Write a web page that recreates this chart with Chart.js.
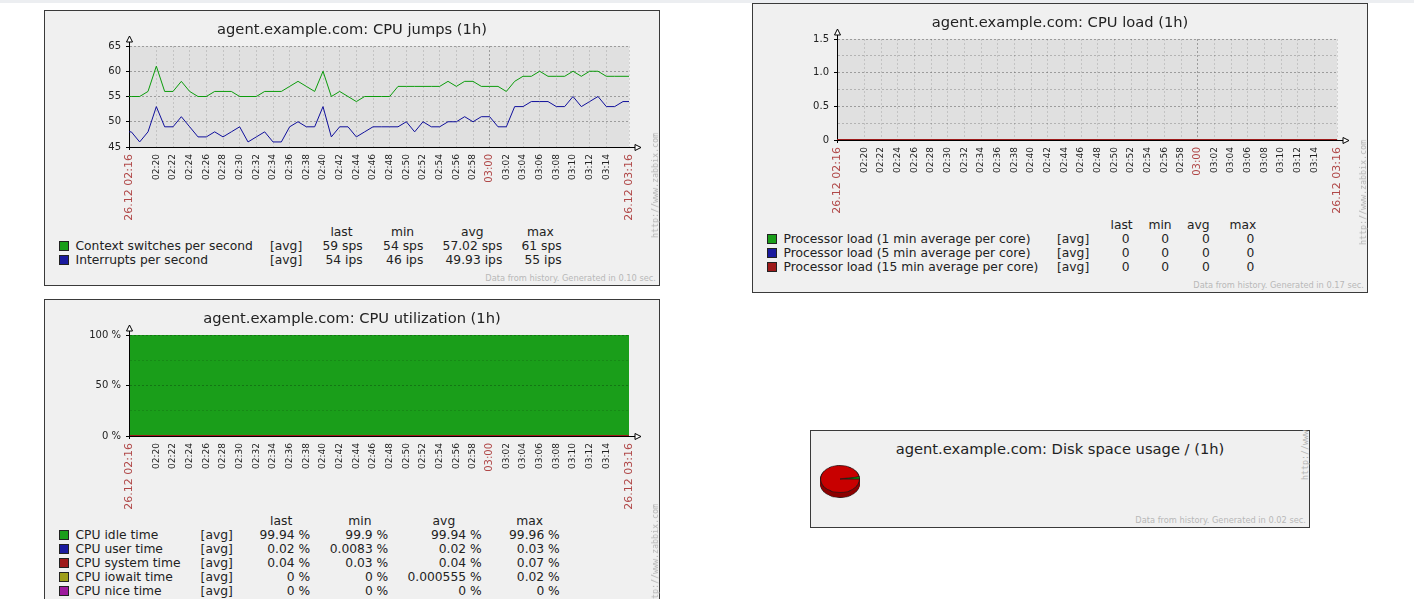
<!DOCTYPE html>
<html>
<head>
<meta charset="utf-8">
<title>agent.example.com graphs</title>
<script src="https://cdn.jsdelivr.net/npm/chart.js@4.4.1/dist/chart.umd.min.js"></script>
<style>
  body { margin: 0; width: 1414px; height: 599px; overflow: hidden; background: #fff; position: relative;
         font-family: "DejaVu Sans", sans-serif; color: #222; }
  .topbar { position: absolute; left: 0; top: 0; width: 1414px; height: 3px; background: #eceef1; }
  .panel { position: absolute; background: #f0f0f0; outline: 1px solid #3a3a3a; outline-offset: -1px; overflow: hidden; }
  .panel canvas { position: absolute; left: 0; top: 0; }
  .title { position: absolute; left: 0; width: 100%; top: 10px; text-align: center; font-size: 14.7px;
           line-height: 18px; white-space: nowrap; color: #222; }
  .lg { position: absolute; font-size: 12.3px; line-height: 14px; white-space: nowrap; color: #222; }
  .sq { position: absolute; width: 10px; height: 10px; box-sizing: border-box; border: 1px solid #222; }
  .foot { position: absolute; right: 4px; bottom: 3.5px; font-size: 8.25px; line-height: 10px; color: #b8b8b8; white-space: nowrap; }
  .wm { position: absolute; right: 0; bottom: 48px; width: 10px; writing-mode: vertical-rl; transform: rotate(180deg);
        font-family: "DejaVu Sans Mono", monospace; font-size: 8.3px; line-height: 10px; color: #b4b4b4; white-space: nowrap; }
</style>
</head>
<body>
<div class="topbar"></div>

<div class="panel" id="pJumps" style="left:44px;top:10px;width:616px;height:276px">
  <canvas id="cJumps" width="616" height="210"></canvas>
  <div class="title">agent.example.com: CPU jumps (1h)</div>
  <div class="wm">http://www.zabbix.com</div>
  <div class="foot">Data from history. Generated in 0.10 sec.</div>
</div>

<div class="panel" id="pLoad" style="left:752px;top:3px;width:616px;height:290px">
  <canvas id="cLoad" width="616" height="210"></canvas>
  <div class="title">agent.example.com: CPU load (1h)</div>
  <div class="wm">http://www.zabbix.com</div>
  <div class="foot">Data from history. Generated in 0.17 sec.</div>
</div>

<div class="panel" id="pUtil" style="left:44px;top:299px;width:616px;height:358px">
  <canvas id="cUtil" width="616" height="210"></canvas>
  <div class="title">agent.example.com: CPU utilization (1h)</div>
  <div class="wm">http://www.zabbix.com</div>
</div>

<div class="panel" id="pDisk" style="left:810px;top:430px;width:500px;height:98px">
  <div class="title">agent.example.com: Disk space usage / (1h)</div>
  <div class="wm">http://www.zabbix.com</div>
  <div class="foot">Data from history. Generated in 0.02 sec.</div>
</div>

<script>
// --- Time axis (minutes past 02:00, one sample per minute from 02:16) ---
const axisStart   = 16.72;   // 02:16:43
const axisEnd     = 76.72;   // 03:16:43
const firstMinute = 16;
const timeTicks   = [20, 22, 24, 26, 28, 30, 32, 34, 36, 38, 40, 42, 44, 46,
                     48, 50, 52, 54, 56, 58, 60, 62, 64, 66, 68, 70, 72, 74];
const timeLabels  = ["02:20", "02:22", "02:24", "02:26", "02:28", "02:30", "02:32", "02:34", "02:36", "02:38",
                     "02:40", "02:42", "02:44", "02:46", "02:48", "02:50", "02:52", "02:54", "02:56", "02:58",
                     "03:00", "03:02", "03:04", "03:06", "03:08", "03:10", "03:12", "03:14"];
const edgeLabels  = ["26.12 02:16", "26.12 03:16"];
const hourLabel   = "03:00";

// --- CPU jumps ---
const jumpsSeries  = ["Context switches per second", "Interrupts per second"];
const jumpsColors  = ["#1a9e1a", "#1a1a9e"];
const jumpsLines   = ["#0c9c0c", "#10109c"];
const contextSwitches = [55, 55, 55, 56, 61, 56, 56, 58, 56, 55,
                         55, 56, 56, 56, 55, 55, 55, 56, 56, 56,
                         57, 58, 57, 56, 60, 55, 56, 55, 54, 55,
                         55, 55, 55, 57, 57, 57, 57, 57, 57, 58,
                         57, 58, 58, 57, 57, 57, 56, 58, 59, 59,
                         60, 59, 59, 59, 60, 59, 60, 60, 59, 59,
                         59];
const interrupts      = [48, 48, 46, 48, 53, 49, 49, 51, 49, 47,
                         47, 48, 47, 48, 49, 46, 47, 48, 46, 46,
                         49, 50, 49, 49, 53, 47, 49, 49, 47, 48,
                         49, 49, 49, 49, 50, 48, 50, 49, 49, 50,
                         50, 51, 50, 51, 51, 49, 49, 53, 53, 54,
                         54, 54, 53, 53, 55, 53, 54, 55, 53, 53,
                         54];
const jumpsStats = [["59 sps", "54 sps", "57.02 sps", "61 sps"],
                    ["54 ips", "46 ips", "49.93 ips", "55 ips"]];
const jumpsTicks      = [45, 50, 55, 60, 65];
const jumpsTickLabels = ["45", "50", "55", "60", "65"];

// --- CPU load ---
const loadSeries = ["Processor load (1 min average per core)", "Processor load (5 min average per core)",
                    "Processor load (15 min average per core)"];
const loadColors = ["#1a9e1a", "#1a1a9e", "#9e1a1a"];
const load1  = [0,0,0,0,0,0,0,0,0,0, 0,0,0,0,0,0,0,0,0,0, 0,0,0,0,0,0,0,0,0,0,
                0,0,0,0,0,0,0,0,0,0, 0,0,0,0,0,0,0,0,0,0, 0,0,0,0,0,0,0,0,0,0, 0];
const load5  = [0,0,0,0,0,0,0,0,0,0, 0,0,0,0,0,0,0,0,0,0, 0,0,0,0,0,0,0,0,0,0,
                0,0,0,0,0,0,0,0,0,0, 0,0,0,0,0,0,0,0,0,0, 0,0,0,0,0,0,0,0,0,0, 0];
const load15 = [0,0,0,0,0,0,0,0,0,0, 0,0,0,0,0,0,0,0,0,0, 0,0,0,0,0,0,0,0,0,0,
                0,0,0,0,0,0,0,0,0,0, 0,0,0,0,0,0,0,0,0,0, 0,0,0,0,0,0,0,0,0,0, 0];
const loadStats = [["0", "0", "0", "0"], ["0", "0", "0", "0"], ["0", "0", "0", "0"]];
const loadTicks      = [0, 0.5, 1.0, 1.5];
const loadTickLabels = ["0", "0.5", "1.0", "1.5"];

// --- CPU utilization ---
const utilSeries = ["CPU idle time", "CPU user time", "CPU system time", "CPU iowait time", "CPU nice time"];
const utilColors = ["#1a9e1a", "#1a1a9e", "#9e1a1a", "#9e9e1a", "#9e1a9e"];
const cpuIdle   = [99.94, 99.94, 99.96, 99.94, 99.92, 99.94, 99.94, 99.95, 99.95, 99.94,
                   99.94, 99.92, 99.94, 99.95, 99.95, 99.94, 99.94, 99.9,  99.94, 99.94,
                   99.95, 99.94, 99.95, 99.94, 99.93, 99.94, 99.93, 99.93, 99.94, 99.94,
                   99.94, 99.95, 99.94, 99.93, 99.93, 99.95, 99.94, 99.94, 99.94, 99.94,
                   99.94, 99.95, 99.93, 99.94, 99.94, 99.94, 99.94, 99.94, 99.95, 99.93,
                   99.94, 99.94, 99.94, 99.94, 99.94, 99.94, 99.95, 99.93, 99.94, 99.94,
                   99.94];
const cpuUser   = [0.02, 0.02, 0.01, 0.02, 0.03, 0.02, 0.02, 0.02, 0.01, 0.02,
                   0.02, 0.03, 0.02, 0.02, 0.0083, 0.02, 0.02, 0.03, 0.02, 0.02,
                   0.02, 0.02, 0.01, 0.02, 0.02, 0.02, 0.03, 0.02, 0.02, 0.02,
                   0.02, 0.01, 0.02, 0.02, 0.03, 0.02, 0.02, 0.02, 0.02, 0.02,
                   0.02, 0.02, 0.03, 0.02, 0.01, 0.02, 0.02, 0.02, 0.02, 0.03,
                   0.02, 0.02, 0.02, 0.02, 0.01, 0.02, 0.02, 0.03, 0.02, 0.02,
                   0.02];
const cpuSystem = [0.04, 0.04, 0.03, 0.04, 0.05, 0.04, 0.04, 0.03, 0.04, 0.04,
                   0.04, 0.05, 0.04, 0.03, 0.04, 0.04, 0.04, 0.07, 0.04, 0.04,
                   0.03, 0.04, 0.04, 0.04, 0.05, 0.04, 0.04, 0.03, 0.04, 0.04,
                   0.04, 0.04, 0.04, 0.05, 0.04, 0.03, 0.04, 0.04, 0.04, 0.04,
                   0.04, 0.03, 0.04, 0.04, 0.05, 0.04, 0.04, 0.04, 0.03, 0.04,
                   0.04, 0.04, 0.04, 0.04, 0.05, 0.04, 0.03, 0.04, 0.04, 0.04,
                   0.04];
const cpuIowait = [0,0,0,0,0,0,0,0,0,0, 0,0,0,0,0,0,0,0,0,0, 0,0,0,0,0,0,0,0.02,0,0,
                   0,0,0,0,0,0,0,0,0,0, 0,0,0,0,0,0,0,0,0,0, 0,0,0,0,0,0,0,0,0,0, 0];
const cpuNice   = [0,0,0,0,0,0,0,0,0,0, 0,0,0,0,0,0,0,0,0,0, 0,0,0,0,0,0,0,0,0,0,
                   0,0,0,0,0,0,0,0,0,0, 0,0,0,0,0,0,0,0,0,0, 0,0,0,0,0,0,0,0,0,0, 0];
const utilStats = [["99.94 %", "99.9 %", "99.94 %", "99.96 %"],
                   ["0.02 %", "0.0083 %", "0.02 %", "0.03 %"],
                   ["0.04 %", "0.03 %", "0.04 %", "0.07 %"],
                   ["0 %", "0 %", "0.000555 %", "0.02 %"],
                   ["0 %", "0 %", "0 %", "0 %"]];
const utilTicks      = [0, 50, 100];
const utilTickLabels = ["0 %", "50 %", "100 %"];

// --- Disk space ---
const diskLabels = ["Free disk space", "Used disk space"];
const diskValues = [2.8, 97.2];
const diskColors = ["#00c800", "#c80000"];
const diskSide   = ["#008c00", "#8c0000"];

const statHeads = ["last", "min", "avg", "max"];

// --- Chart helpers ---
const RED = "#b04848";
Chart.defaults.font.family = "'DejaVu Sans', sans-serif";
Chart.defaults.font.size = 10;
Chart.defaults.color = "#222";

// one point per minute; the last value is held to the right edge of the graph
const toPoints = values => {
  const pts = values.map((v, i) => ({ x: firstMinute + i, y: v }));
  pts.push({ x: axisEnd, y: values[values.length - 1] });
  return pts;
};

function timeText(v) {
  if (v === axisStart) return edgeLabels[0];
  if (v === axisEnd) return edgeLabels[1];
  const i = timeTicks.indexOf(v);
  return i < 0 ? "" : timeLabels[i];
}

// grey plot background, axis arrows
const chartFrame = {
  id: "chartFrame",
  beforeDraw(chart) {
    const { ctx, chartArea: a } = chart;
    ctx.save();
    ctx.fillStyle = "#e0e0e0";
    ctx.fillRect(a.left, a.top, a.right - a.left, a.bottom - a.top);
    ctx.restore();
  },
  afterDraw(chart) {
    const { ctx, chartArea: a } = chart;
    const x = Math.round(a.left) + 0.5;
    const y = Math.round(a.bottom) + 0.5;
    ctx.save();
    ctx.lineWidth = 1;
    ctx.strokeStyle = "#000";
    ctx.fillStyle = "#fff";
    ctx.beginPath();
    ctx.moveTo(x, a.top); ctx.lineTo(x, a.top - 4);
    ctx.moveTo(a.right, y); ctx.lineTo(a.right + 6, y);
    ctx.stroke();
    ctx.beginPath();
    ctx.moveTo(x - 3, a.top - 4); ctx.lineTo(x + 3, a.top - 4); ctx.lineTo(x, a.top - 10);
    ctx.closePath(); ctx.fill(); ctx.stroke();
    ctx.beginPath();
    ctx.moveTo(a.right + 6, y - 3); ctx.lineTo(a.right + 6, y + 3); ctx.lineTo(a.right + 12, y);
    ctx.closePath(); ctx.fill(); ctx.stroke();
    ctx.restore();
  }
};

function timeAxis(extra) {
  const axis = {
    type: "linear",
    min: axisStart,
    max: axisEnd,
    afterBuildTicks: s => { s.ticks = [axisStart, ...timeTicks, axisEnd].map(v => ({ value: v })); },
    afterFit: s => { s.height = 73; },
    ticks: {
      autoSkip: false,
      minRotation: 90,
      maxRotation: 90,
      padding: 4,
      callback: v => timeText(v),
      color: c => {
        const t = timeText(c.tick?.value);
        return (edgeLabels.includes(t) || t === hourLabel) ? RED : "#222";
      },
      font: c => {
        const t = timeText(c.tick?.value);
        const size = edgeLabels.includes(t) ? 11 : t === hourLabel ? 10 : 9;
        return { family: "'DejaVu Sans', sans-serif", size };
      }
    },
    grid: {
      lineWidth: 1,
      tickLength: 3,
      color: c => timeText(c.tick?.value) === hourLabel ? "rgba(0,0,0,0.3)" : "rgba(0,0,0,0.13)",
      tickColor: c => c.tick?.value === axisStart ? "#000" : "rgba(0,0,0,0)"
    },
    border: { color: "#000", dash: [2, 2] }
  };
  if (extra) {
    Object.assign(axis.grid, extra.grid || {});
    Object.assign(axis.border, extra.border || {});
  }
  return axis;
}

function valueAxis(min, max, step, tickValues, tickLabels, extra) {
  const axis = {
    min, max,
    afterFit: s => { s.width = 85; },
    ticks: {
      stepSize: step,
      autoSkip: false,
      padding: 5,
      color: "#222",
      font: { size: 10 },
      callback: v => {
        const i = tickValues.indexOf(v);
        return i < 0 ? "" : tickLabels[i];
      }
    },
    grid: {
      lineWidth: 1,
      tickLength: 3,
      color: c => tickValues.includes(c.tick?.value) ? "rgba(0,0,0,0.3)" : "rgba(0,0,0,0.2)",
      tickColor: c => tickValues.includes(c.tick?.value) ? "#000" : "rgba(0,0,0,0)"
    },
    border: { color: "#000", dash: [2, 2] }
  };
  if (extra) {
    Object.assign(axis, extra.axis || {});
    Object.assign(axis.grid, extra.grid || {});
    Object.assign(axis.border, extra.border || {});
  }
  return axis;
}

function baseOptions(x, y) {
  return {
    responsive: false,
    animation: false,
    events: [],
    layout: { padding: { top: 36, right: 31, bottom: 0, left: 0 } },
    plugins: { legend: { display: false }, tooltip: { enabled: false } },
    elements: { point: { radius: 0 }, line: { borderWidth: 1, tension: 0 } },
    scales: { x, y }
  };
}

function legend(panelId, names, colors, stats, cols) {
  const panel = document.getElementById(panelId);
  const put = (text, x, y, shift) => {
    const d = document.createElement("div");
    d.className = "lg";
    d.textContent = text;
    d.style.left = x + "px";
    d.style.top = (y - 7) + "px";
    if (shift) d.style.transform = "translateX(" + shift + ")";
    panel.appendChild(d);
  };
  statHeads.forEach((h, i) => put(h, cols.head[i], 222, "-50%"));
  names.forEach((name, r) => {
    const y = 236 + r * 14;
    const sq = document.createElement("div");
    sq.className = "sq";
    sq.style.left = "15px";
    sq.style.top = (y - 5) + "px";
    sq.style.background = colors[r];
    panel.appendChild(sq);
    put(name, 31.5, y);
    put("[avg]", cols.agg, y);
    stats[r].forEach((v, i) => put(v, cols.right[i], y, "-100%"));
  });
}

// --- Legends ---
legend("pJumps", jumpsSeries, jumpsColors, jumpsStats,
       { agg: 226, right: [318.7, 379.3, 458.3, 517.7], head: [297.5, 358.5, 428.2, 496.5] });
legend("pLoad", loadSeries, loadColors, loadStats,
       { agg: 305, right: [377.6, 417.2, 457.8, 502.4], head: [369.6, 408, 446.3, 490.8] });
legend("pUtil", utilSeries, utilColors, utilStats,
       { agg: 156.6, right: [266.2, 344.3, 437.7, 515.8], head: [237.2, 315.9, 399.9, 485.7] });

// --- CPU jumps ---
new Chart(document.getElementById("cJumps"), {
  type: "line",
  data: {
    datasets: [
      { label: jumpsSeries[0], data: toPoints(contextSwitches), borderColor: jumpsLines[0], fill: false },
      { label: jumpsSeries[1], data: toPoints(interrupts), borderColor: jumpsLines[1], fill: false }
    ]
  },
  options: baseOptions(timeAxis(), valueAxis(45, 65, 5, jumpsTicks, jumpsTickLabels)),
  plugins: [chartFrame]
});

// --- CPU load ---
new Chart(document.getElementById("cLoad"), {
  type: "line",
  data: {
    datasets: [
      { label: loadSeries[2], data: toPoints(load15), borderColor: loadColors[2], borderWidth: 2, clip: 0, order: 0 },
      { label: loadSeries[1], data: toPoints(load5),  borderColor: loadColors[1], borderWidth: 2, clip: 0, order: 1 },
      { label: loadSeries[0], data: toPoints(load1),  borderColor: loadColors[0], borderWidth: 2, clip: 0, order: 2 }
    ]
  },
  options: baseOptions(timeAxis({ border: { z: 1 } }),
                       valueAxis(0, 1.5, 0.25, loadTicks, loadTickLabels)),
  plugins: [chartFrame]
});

// --- CPU utilization (stacked) ---
new Chart(document.getElementById("cUtil"), {
  type: "line",
  data: {
    datasets: [
      { label: utilSeries[1], data: toPoints(cpuUser),   borderColor: utilColors[1], borderWidth: 2, clip: 0, fill: false, order: 1 },
      { label: utilSeries[2], data: toPoints(cpuSystem), borderColor: utilColors[2], borderWidth: 2, clip: 0, fill: false, order: 0 },
      { label: utilSeries[3], data: toPoints(cpuIowait), borderColor: utilColors[3], borderWidth: 2, clip: 0, fill: false, order: 2 },
      { label: utilSeries[4], data: toPoints(cpuNice),   borderColor: utilColors[4], borderWidth: 2, clip: 0, fill: false, order: 3 },
      { label: utilSeries[0], data: toPoints(cpuIdle),   borderColor: utilColors[0], backgroundColor: utilColors[0],
        borderWidth: 1, fill: "origin", order: 4 }
    ]
  },
  options: baseOptions(
    timeAxis({ grid: { color: "rgba(0,0,0,0)" }, border: { z: 1 } }),
    valueAxis(0, 100, 25, utilTicks, utilTickLabels, {
      axis: { stacked: true },
      grid: { z: 1, color: c => utilTicks.includes(c.tick?.value) ? "rgba(0,0,0,0.25)" : "rgba(0,0,0,0.12)" },
      border: { z: 1 }
    })),
  plugins: [chartFrame]
});

// --- Disk space pie (top face plus darker layers below for depth) ---
const diskPanel = document.getElementById("pDisk");
[5, 4, 3, 2, 1, 0].forEach(depth => {
  const c = document.createElement("canvas");
  c.width = 42;
  c.height = 42;
  c.style.left = "9px";
  c.style.top = (28 + depth) + "px";
  c.style.transform = "scaleY(0.7)";
  diskPanel.appendChild(c);
  new Chart(c, {
    type: "pie",
    data: {
      labels: diskLabels,
      datasets: [{
        data: diskValues,
        backgroundColor: depth ? diskSide : diskColors,
        borderColor: "#1a1a1a",
        borderWidth: depth === 0 || depth === 5 ? 1 : 0
      }]
    },
    options: {
      responsive: false,
      animation: false,
      events: [],
      rotation: 80,
      layout: { padding: 1 },
      plugins: { legend: { display: false }, tooltip: { enabled: false } }
    }
  });
});
</script>
</body>
</html>
